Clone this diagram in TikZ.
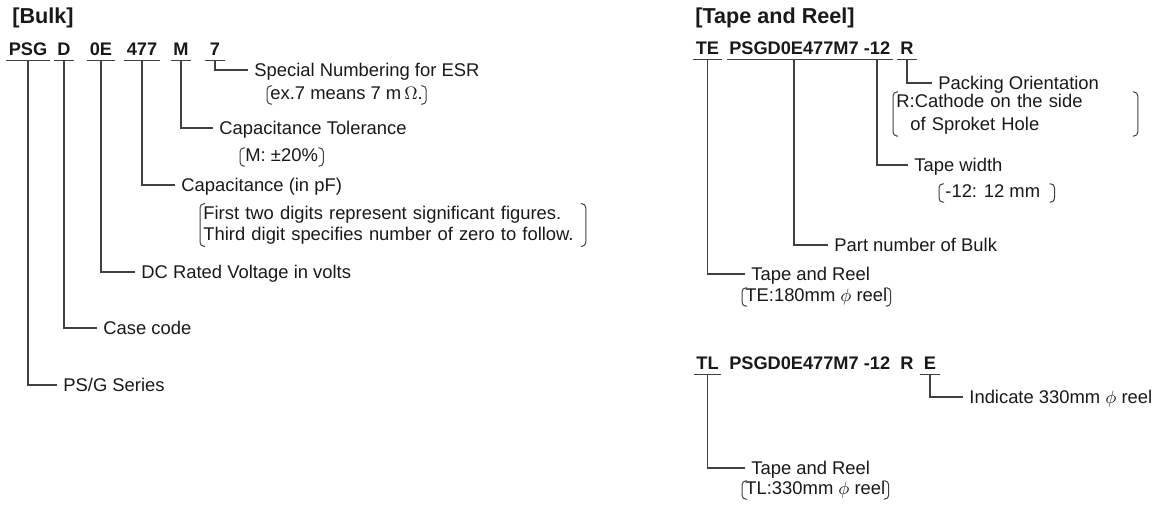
\documentclass[tikz,border=0pt]{standalone}
\usepackage{fontspec}
\setmainfont{Liberation Sans}
\tikzset{
  lbl/.style={anchor=west, inner xsep=3pt, inner ysep=0pt, text height=6.6pt,
    text depth=0pt, text=black!90, font=\fontsize{9.2}{11}\selectfont},
  note/.style={anchor=west, inner xsep=1.5pt, inner ysep=0.3pt, text height=6.6pt,
    text depth=1.6pt, text=black!90, font=\fontsize{9.2}{11}\selectfont},
  notes/.style={anchor=west, inner xsep=1.5pt, inner ysep=0.8pt, align=left,
    text=black!90, font=\fontsize{9.2}{10.7}\selectfont},
  code/.style={anchor=base, inner xsep=1pt, inner ysep=2pt, text depth=0pt,
    minimum width=10pt, text=black!90, font=\fontsize{9.1}{10.5}\selectfont\bfseries},
  heading/.style={anchor=west, inner sep=0pt, text=black!90,
    font=\fontsize{10.8}{12}\selectfont\bfseries},
  lead/.style={draw=black!75, line width=0.6pt},
  paren/.style={draw=black!75, line width=0.5pt, rounded corners=2pt}
}
\begin{document}
\begin{tikzpicture}[x=0.5pt, y=-0.5pt]
    \useasboundingbox (0,0) rectangle (1158,507);

    % bulk
    \node[heading] (bulk) at (12,18) {[Bulk]};
    \node[code] (psg) at (28,56) {PSG};
    \node[code] (case) at (64,56) {D};
    \node[code] (volt) at (101,56) {0E};
    \node[code] (cap) at (142,56) {477};
    \node[code] (tol) at (181,56) {M};
    \node[code] (esr) at (215,56) {7};
    \draw[lead] (psg.south west) -- (psg.south east);
    \draw[lead] (case.south west) -- (case.south east);
    \draw[lead] (volt.south west) -- (volt.south east);
    \draw[lead] (cap.south west) -- (cap.south east);
    \draw[lead] (tol.south west) -- (tol.south east);
    \draw[lead] (esr.south west) -- (esr.south east);

    \node[lbl] (esrLbl) at (248,70) {Special Numbering for ESR};
    \node[note] (esrNote) at (267,95) {ex.7 means 7 m\,$\Omega$.};
    \node[lbl] (tolLbl) at (213,128) {Capacitance Tolerance};
    \node[note, inner xsep=2.5pt] (tolNote) at (240,157) {M: ±20\%};
    \node[lbl] (capLbl) at (175,185) {Capacitance (in pF)};
    \node[notes, text width=189.5pt] (capNote) at (200,225)
        {First two digits represent significant figures.\\
         Third digit specifies number of zero to follow.};
    \node[lbl] (voltLbl) at (135,272) {DC Rated Voltage in volts};
    \node[lbl] (caseLbl) at (97,328) {Case code};
    \node[lbl] (psgLbl) at (57,385) {PS/G Series};

    \draw[lead] (esr.south) |- (esrLbl.west);
    \draw[lead] (tol.south) |- (tolLbl.west);
    \draw[lead] (cap.south) |- (capLbl.west);
    \draw[lead] (volt.south) |- (voltLbl.west);
    \draw[lead] (case.south) |- (caseLbl.west);
    \draw[lead] (psg.south) |- (psgLbl.west);

    % tape and reel
    \node[heading] (tape) at (695,18) {[Tape and Reel]};
    \node[code] (te) at (707.5,55) {TE};
    \node[code] (part) at (794,55) {PSGD0E477M7};
    \node[code] (width) at (877,55) {-12};
    \node[code] (orient) at (907,55) {R};
    \draw[lead] (te.south west) -- (te.south east);
    \draw[lead] (part.south west) -- (part.south east);
    \draw[lead] (width.south west) -- (width.south east);
    \draw[lead] (orient.south west) -- (orient.south east);

    \node[lbl] (orientLbl) at (932,83) {Packing Orientation};
    \node[notes, text width=119pt,
          font=\fontsize{9.2}{11.5}\selectfont] (orientNote) at (893,114)
        {R:Cathode on the side\\\hspace*{7pt}of Sproket Hole};
    \node[lbl] (widthLbl) at (908,165) {Tape width};
    \node[note, inner xsep=3pt] (widthNote) at (939,193) {-12: 12 mm\hspace*{4pt}};
    \node[lbl] (partLbl) at (828,245) {Part number of Bulk};
    \node[lbl] (teLbl) at (745,274) {Tape and Reel};
    \node[note] (teNote) at (742,297) {TE:180mm $\phi$ reel};

    \draw[lead] (orient.south) |- (orientLbl.west);
    \draw[lead] (width.south) |- (widthLbl.west);
    \draw[lead] (part.south) |- (partLbl.west);
    \draw[lead] (te.south) |- (teLbl.west);

    \node[code] (tl) at (707.5,370) {TL};
    \node[code] (partB) at (794,370) {PSGD0E477M7};
    \node[code] (widthB) at (877,370) {-12};
    \node[code] (orientB) at (907,370) {R};
    \node[code] (reel) at (930,370) {E};
    \draw[lead] (tl.south west) -- (tl.south east);
    \draw[lead] (reel.south west) -- (reel.south east);

    \node[lbl] (reelLbl) at (963,397) {Indicate 330mm $\phi$ reel};
    \node[lbl] (tlLbl) at (745,468) {Tape and Reel};
    \node[note] (tlNote) at (742,490) {TL:330mm $\phi$ reel};

    \draw[lead] (reel.south) |- (reelLbl.west);
    \draw[lead] (tl.south) |- (tlLbl.west);

    % brackets
    \draw[paren] ([xshift=2.5pt]esrNote.north west) -| (esrNote.south west) -- ++(2.5pt,0);
    \draw[paren] ([xshift=-2.5pt]esrNote.north east) -| (esrNote.south east) -- ++(-2.5pt,0);
    \draw[paren] ([xshift=2.5pt]tolNote.north west) -| (tolNote.south west) -- ++(2.5pt,0);
    \draw[paren] ([xshift=-2.5pt]tolNote.north east) -| (tolNote.south east) -- ++(-2.5pt,0);
    \draw[paren] ([xshift=2.5pt]capNote.north west) -| (capNote.south west) -- ++(2.5pt,0);
    \draw[paren] ([xshift=-2.5pt]capNote.north east) -| (capNote.south east) -- ++(-2.5pt,0);
    \draw[paren] ([xshift=2.5pt]orientNote.north west) -| (orientNote.south west) -- ++(2.5pt,0);
    \draw[paren] ([xshift=-2.5pt]orientNote.north east) -| (orientNote.south east) -- ++(-2.5pt,0);
    \draw[paren] ([xshift=2.5pt]widthNote.north west) -| (widthNote.south west) -- ++(2.5pt,0);
    \draw[paren] ([xshift=-2.5pt]widthNote.north east) -| (widthNote.south east) -- ++(-2.5pt,0);
    \draw[paren] ([xshift=2.5pt]teNote.north west) -| (teNote.south west) -- ++(2.5pt,0);
    \draw[paren] ([xshift=-2.5pt]teNote.north east) -| (teNote.south east) -- ++(-2.5pt,0);
    \draw[paren] ([xshift=2.5pt]tlNote.north west) -| (tlNote.south west) -- ++(2.5pt,0);
    \draw[paren] ([xshift=-2.5pt]tlNote.north east) -| (tlNote.south east) -- ++(-2.5pt,0);
\end{tikzpicture}
\end{document}
